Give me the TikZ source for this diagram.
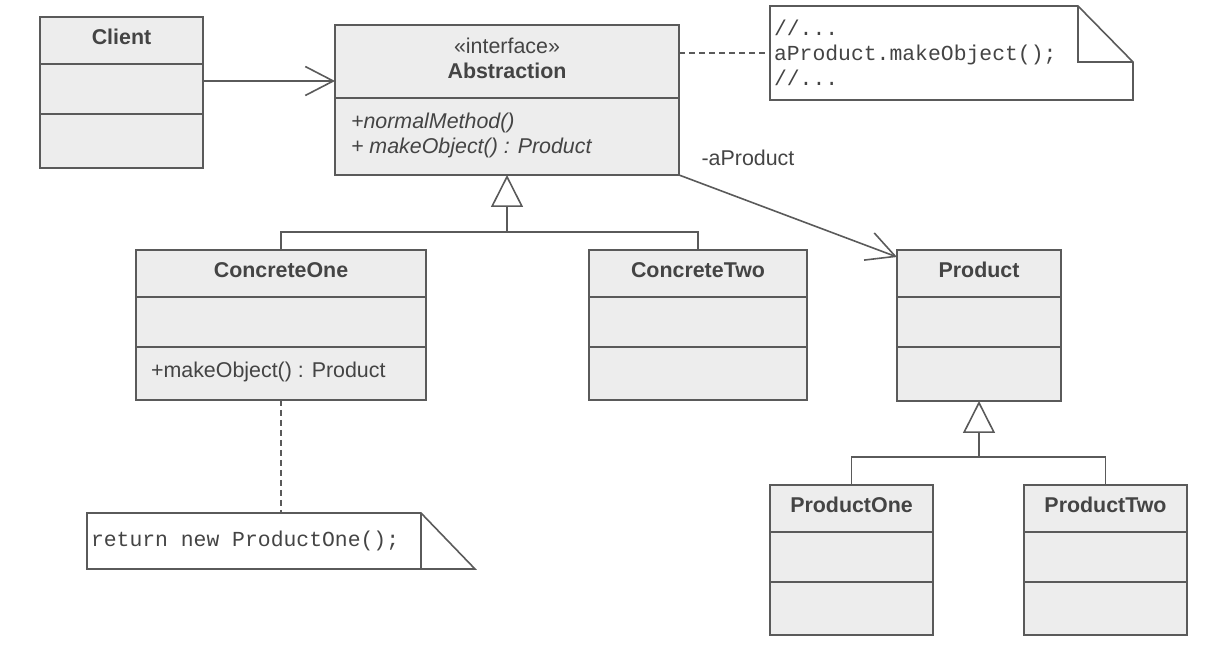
\documentclass[tikz,border=0pt]{standalone}
\usepackage{fontspec}
\setmainfont{Liberation Sans}
\setmonofont{Liberation Mono}[WordSpace={1,0,0}]
\usetikzlibrary{arrows.meta,calc}

\definecolor{umlfill}{HTML}{EDEDED}
\definecolor{umlline}{HTML}{5A5A5A}
\definecolor{umltext}{HTML}{444444}

\begin{document}
\begin{tikzpicture}[x=0.5pt,y=-0.5pt]
  \tikzset{
    every node/.style={font=\fontsize{10.7}{12.5}\selectfont, text=umltext},
    classbox/.style={draw=umlline, fill=umlfill, line width=1pt, rectangle, anchor=north west, outer sep=0pt, inner sep=0pt},
    classname/.style={anchor=base, font=\fontsize{10.7}{12.5}\selectfont\bfseries},
    member/.style={anchor=base west},
    notebox/.style={anchor=north west, outer sep=0pt, inner xsep=2pt, inner ysep=0pt, align=left,
      font=\fontsize{10.7}{12.5}\selectfont\ttfamily, execute at begin node={\spaceskip=0.6em\relax}},
    umledge/.style={draw=umlline, line width=0.8pt},
    assoc/.style={umledge, -{Straight Barb[length=14pt,width=14.5pt]}},
    inherit/.style={umledge, -{Triangle[open,length=16pt,width=16pt]}},
    noteline/.style={umledge, dash pattern=on 3pt off 2pt}
  }
  \useasboundingbox (0,0) rectangle (1212,652);

  % classes
  \node[classbox, minimum width=81.5pt, minimum height=75.5pt] (client) at (40,17) {};
  \node[classbox, minimum width=172pt, minimum height=75pt] (abstraction) at (335,25) {};
  \node[classbox, minimum width=145pt, minimum height=75pt] (concreteone) at (136,250) {};
  \node[classbox, minimum width=109pt, minimum height=75pt] (concretetwo) at (589,250) {};
  \node[classbox, minimum width=82pt, minimum height=75.5pt] (product) at (897,250) {};
  \node[classbox, minimum width=81.5pt, minimum height=75pt] (productone) at (770,485) {};
  \node[classbox, minimum width=81.5pt, minimum height=75pt] (producttwo) at (1024,485) {};

  \foreach \c in {client,concreteone,concretetwo,product,productone,producttwo}
    \draw[umledge] ($(\c.north west)+(0,47)$) -- ($(\c.north east)+(0,47)$)
      ($(\c.north west)+(0,97)$) -- ($(\c.north east)+(0,97)$);
  \draw[umledge] ($(abstraction.north west)+(0,73)$) -- ($(abstraction.north east)+(0,73)$);

  \node[classname] (client-name) at ($(client.north)+(0,28)$) {Client};
  \node[classname] (abstraction-stereo) at ($(abstraction.north)+(0,29)$) {\mdseries «interface»};
  \node[classname] (abstraction-name) at ($(abstraction.north)+(0,54)$) {Abstraction};
  \node[member, font=\fontsize{10.7}{12.5}\selectfont\itshape] (abstraction-op1) at ($(abstraction.north west)+(9,104)$) {+normalMethod()};
  \node[member, font=\fontsize{10.7}{12.5}\selectfont\itshape] (abstraction-op2) at ($(abstraction.north west)+(9,129)$) {+ makeObject() : Product};
  \node[classname] (concreteone-name) at ($(concreteone.north)+(0,28)$) {ConcreteOne};
  \node[member] (concreteone-op) at ($(concreteone.north west)+(8,128)$) {+makeObject() : Product};
  \node[classname] (concretetwo-name) at ($(concretetwo.north)+(0,28)$) {ConcreteTwo};
  \node[classname] (product-name) at ($(product.north)+(0,28)$) {Product};
  \node[classname] (productone-name) at ($(productone.north)+(0,28)$) {ProductOne};
  \node[classname] (producttwo-name) at ($(producttwo.north)+(0,28)$) {ProductTwo};

  % notes
  \node[notebox, minimum width=181.5pt, minimum height=47pt, text width=177.5pt] (topnote) at (770,6) {//...\\aProduct.makeObject();\\//...};
  \draw[umledge] (topnote.north west) -- ($(topnote.north east)+(-55,0)$) -- ($(topnote.north east)+(0,56)$)
    -- (topnote.south east) -- (topnote.south west) -- cycle;
  \draw[umledge] ($(topnote.north east)+(-55,0)$) |- ($(topnote.north east)+(0,56)$);

  \node[notebox, minimum width=194pt, minimum height=28pt, text width=190pt] (returnnote) at (87,513) {return new ProductOne();};
  \draw[umledge] (returnnote.north west) -- ($(returnnote.north east)+(-54,0)$) -- (returnnote.south east)
    -- (returnnote.south west) -- cycle;
  \draw[umledge] ($(returnnote.north east)+(-54,0)$) -- ($(returnnote.south east)+(-54,0)$);

  % connectors
  \coordinate (clientout) at ($(client.north east)+(0,64)$);
  \draw[assoc] (clientout) -- (clientout -| abstraction.west);
  \draw[noteline] (topnote.west -| abstraction.east) -- (topnote.west);
  \draw[assoc] (abstraction.south east) -- ($(product.north west)+(0,7)$);
  \node (aproduct) at (748,158) {-aProduct};

  \coordinate (absjoin) at ($(abstraction.south)+(0,57)$);
  \draw[inherit] (absjoin) -- (abstraction.south);
  \draw[umledge] (concreteone.north) |- (absjoin) -| (concretetwo.north);

  \coordinate (prodjoin) at ($(product.south)+(0,56)$);
  \draw[inherit] (prodjoin) -- (product.south);
  \draw[umledge] (productone.north) |- (prodjoin) -| (producttwo.north);

  \draw[noteline] (concreteone.south) -- (returnnote.north);
\end{tikzpicture}
\end{document}
